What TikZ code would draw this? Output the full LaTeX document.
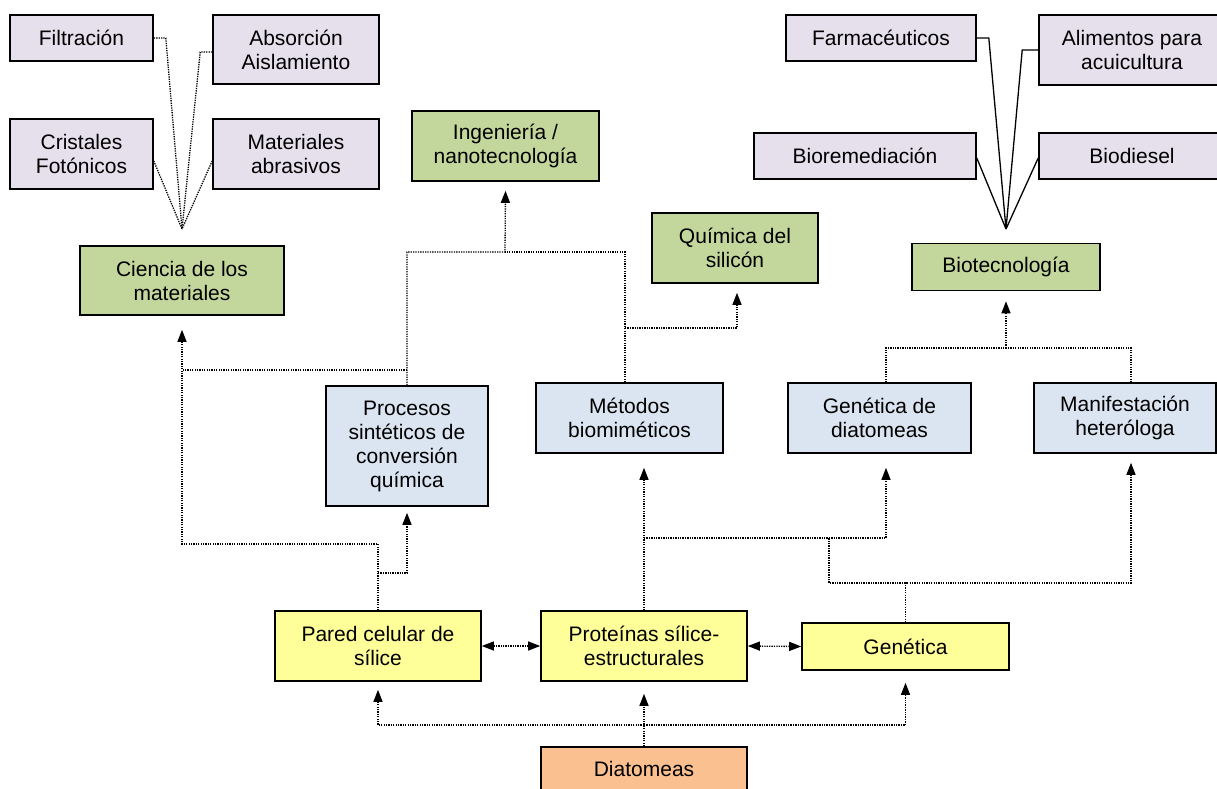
\documentclass[tikz,border=0pt]{standalone}
\usepackage{fontspec}
\setmainfont{Liberation Sans}
\usetikzlibrary{arrows.meta}
\definecolor{lav}{RGB}{229,224,236}
\definecolor{grn}{RGB}{195,214,155}
\definecolor{blu}{RGB}{219,229,241}
\definecolor{yel}{RGB}{255,255,153}
\definecolor{ora}{RGB}{250,192,144}
\begin{document}
\begin{tikzpicture}[x=1pt,y=-1pt,
  box/.style={draw=black,line width=1.6pt,align=center,inner sep=0pt,
    font=\fontsize{21}{24}\selectfont},
  sz/.style 2 args={minimum width=#1pt,minimum height=#2pt},
  dl/.style={line width=1.3pt,dash pattern=on 1.3pt off 1.1pt},
  sl/.style={line width=1.3pt},
  arr/.style={-{Triangle[length=12pt,width=9pt]}},
  darr/.style={{Triangle[length=12pt,width=9pt]}-{Triangle[length=12pt,width=9pt]}}]
\useasboundingbox (0,0) rectangle (1217,788);
% top left
\node[box,fill=lav,sz={143}{46}] (filt) at (81.5,38) {Filtración};
\node[box,fill=lav,sz={166}{69}] (absor) at (296,49.5) {Absorción\\Aislamiento};
\node[box,fill=lav,sz={143}{70}] (crist) at (81.5,154) {Cristales\\Fotónicos};
\node[box,fill=lav,sz={166}{70}] (mater) at (296,154) {Materiales\\abrasivos};
\node[box,fill=grn,sz={204}{69}] (ciencia) at (182,280.5) {Ciencia de los\\materiales};
% middle top
\node[box,fill=grn,sz={187}{70}] (ing) at (505.5,146) {Ingeniería /\\nanotecnología};
\node[box,fill=grn,sz={166}{70}] (quim) at (735,248) {Química del\\silicón};
% top right
\node[box,fill=lav,sz={190}{46}] (farm) at (881,38) {Farmacéuticos};
\node[box,fill=lav,sz={186}{70}] (alim) at (1132,50) {Alimentos para\\acuicultura};
\node[box,fill=lav,sz={222}{46}] (biorem) at (865,156) {Bioremediación};
\node[box,fill=lav,sz={186}{46}] (biod) at (1132,156) {Biodiesel};
\node[box,fill=grn,sz={188}{47}] (biotec) at (1006,267) {Biotecnología};
% blue row
\node[box,fill=blu,sz={162}{120}] (proc) at (407,446) {Procesos\\sintéticos de\\conversión\\química};
\node[box,fill=blu,sz={187}{70}] (metod) at (629.5,418) {Métodos\\biomiméticos};
\node[box,fill=blu,sz={183}{70}] (gendiat) at (879.5,418) {Genética de\\diatomeas};
\node[box,fill=blu,sz={182}{70}] (manif) at (1125,418) {Manifestación\\heteróloga};
% yellow row
\node[box,fill=yel,sz={206}{70}] (pared) at (378,646) {Pared celular de\\sílice};
\node[box,fill=yel,sz={206}{70}] (prot) at (644,646) {Proteínas sílice-\\estructurales};
\node[box,fill=yel,sz={207}{47}] (genet) at (905.5,646.5) {Genética};
\node[box,fill=ora,sz={206}{44}] (diat) at (644,769) {Diatomeas};
% fan apexes
\coordinate (capL) at (182,229);
\coordinate (capR) at (1006,229);
\draw[dl] (filt.east) -- ++(12,0) -- (capL);
\draw[dl] ([yshift=-2.5pt]absor.west) -- ++(-12,0) -- (capL);
\draw[dl] ([yshift=-7pt]crist.east) -- (capL);
\draw[dl] ([yshift=-7pt]mater.west) -- (capL);
\draw[sl] (farm.east) -- ++(12,0) -- (capR);
\draw[sl] (alim.west) -- ++(-16,0) -- (capR);
\draw[sl] ([yshift=-2pt]biorem.east) -- (capR);
\draw[sl] ([yshift=-2pt]biod.west) -- (capR);
% junctions
\coordinate (jP) at (378,573);
\coordinate (jProcL) at (407,370);
\coordinate (jCienL) at (182,370);
\coordinate (jIng) at (505,252);
\coordinate (jMet) at (625,328);
\coordinate (jProt) at (644,538);
\coordinate (jGen) at (905.5,583);
\coordinate (jGenL) at (829,538);
\coordinate (jBio) at (1006,348);
\coordinate (jDia) at (644,725);
% connectors
\draw[dl,arr] (pared.north) |- (182,544) -- ([yshift=-14pt]ciencia.south);
\draw[dl,arr] (jP) -| ([yshift=-6pt]proc.south);
\draw[dl,arr] (proc.north) |- (jIng) -- ([yshift=-9pt]ing.south);
\draw[dl] (jProcL) -- (jCienL);
\draw[dl] ([xshift=-4.5pt]metod.north) |- (jIng);
\draw[dl,arr] (jMet) -| ([yshift=-9pt,xshift=2pt]quim.south);
\draw[dl,arr] (prot.north) -- ([xshift=14.5pt,yshift=-14pt]metod.south);
\draw[dl,arr] (jProt) -| ([xshift=6.5pt,yshift=-14pt]gendiat.south);
\draw[dl,arr] (genet.north) |- (1131,583) -- ([xshift=6pt,yshift=-9pt]manif.south);
\draw[dl] (jGen) -| (jGenL);
\draw[dl] ([xshift=6.5pt]gendiat.north) |- (jBio);
\draw[dl] ([xshift=6pt]manif.north) |- (jBio);
\draw[dl,arr] (jBio) -- ([yshift=-10pt]biotec.south);
\draw[dl,arr] (diat.north) -- ([yshift=-12pt]prot.south);
\draw[dl,arr] (jDia) -| ([yshift=-8pt]pared.south);
\draw[dl,arr] (jDia) -| ([yshift=-12pt]genet.south);
\draw[dl,darr] (pared.east) -- (prot.west);
\draw[dl,darr] (prot.east) -- (genet.west);
\end{tikzpicture}
\end{document}
